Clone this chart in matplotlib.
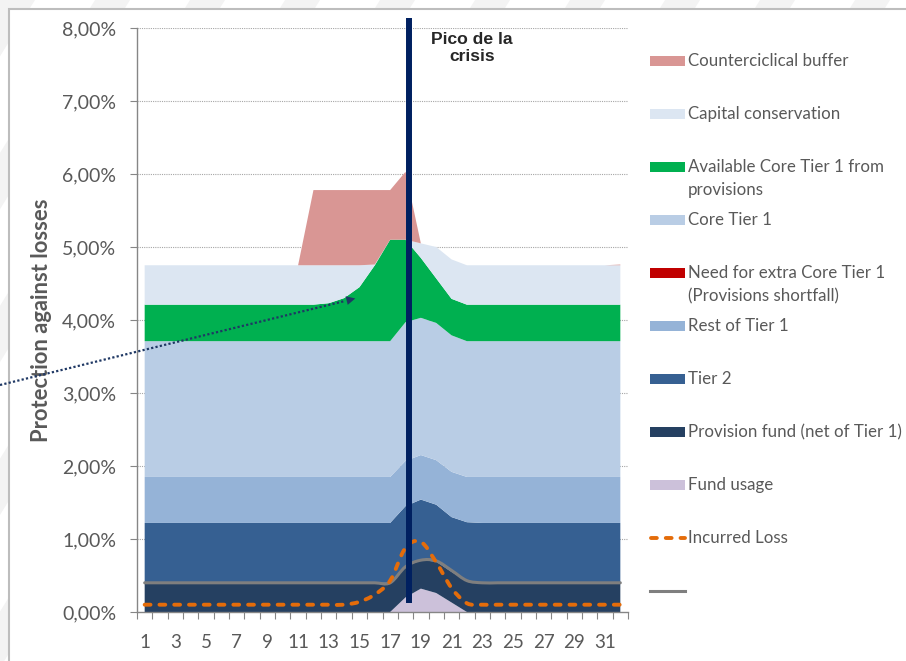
import numpy as np
import matplotlib.pyplot as plt
from matplotlib.patches import Rectangle, PathPatch, Polygon, FancyArrowPatch
from matplotlib.path import Path
from matplotlib.lines import Line2D

plt.rcParams['font.family'] = ['Lato', 'DejaVu Sans']

W, H = 906, 661

periods = np.arange(1, 33)

# layer thicknesses (% of assets), bottom layer first
fund_usage = [0] * 17 + [0.20, 0.32, 0.26, 0.13] + [0] * 11
provision_fund = [0.40] * 17 + [0.42, 0.39, 0.43, 0.42, 0.42] + [0.40] * 10
tier2 = [0.82] * 17 + [0.83, 0.83, 0.78, 0.75, 0.81] + [0.82] * 10
rest_tier1 = [0.63] * 17 + [0.62, 0.61, 0.61, 0.62, 0.62] + [0.63] * 10
extra_core_tier1 = [0] * 32
core_tier1 = [1.86] * 17 + [1.90, 1.88, 1.88, 1.87, 1.86] + [1.86] * 10
available_ct1 = [0.50] * 12 + [0.52, 0.59, 0.74, 1.04, 1.39, 1.13, 0.82, 0.61, 0.50, 0.50] + [0.50] * 10
capital_conservation = [0.54] * 12 + [0.52, 0.45, 0.30, 0.01, 0, 0, 0.20, 0.43, 0.54, 0.54] + [0.54] * 10
countercyclical = [0] * 11 + [1.03] * 4 + [1.02, 0.68, 0.93] + [0] * 13 + [0.01]

incurred_loss = [0.10] * 14 + [0.14, 0.24, 0.43, 0.88, 0.96, 0.68, 0.33, 0.12] + [0.10] * 10
provision_line = [0.40] * 17 + [0.62, 0.71, 0.70, 0.57, 0.43] + [0.40] * 10

peak_x = 18.2

layers = [fund_usage, provision_fund, tier2, rest_tier1, extra_core_tier1,
          core_tier1, available_ct1, capital_conservation, countercyclical]
layer_colors = ['#CCC1DA', '#254061', '#366092', '#95B3D7', '#C00000',
                '#B9CDE5', '#00B050', '#DCE6F2', '#D99694']

legend_labels = ['Counterciclical buffer', 'Capital conservation',
                 'Available Core Tier 1 from\nprovisions', 'Core Tier 1',
                 'Need for extra Core Tier 1\n(Provisions shortfall)', 'Rest of Tier 1',
                 'Tier 2', 'Provision fund (net of Tier 1)', 'Fund usage',
                 'Incurred Loss', '']

yticks = np.arange(0, 9)
ytick_labels = ['%d,00%%' % v for v in yticks]


def fx(x):
    return x / W


def fy(y):
    return 1 - y / H


def smooth_path(x, y):
    # cubic bezier through every point, like a spreadsheet "smoothed line"
    pts = np.column_stack([x, y]).astype(float)
    ext = np.vstack([pts[0], pts, pts[-1]])
    verts = [pts[0]]
    codes = [Path.MOVETO]
    for i in range(len(pts) - 1):
        p0, p1, p2, p3 = ext[i], ext[i + 1], ext[i + 2], ext[i + 3]
        verts += [p1 + (p2 - p0) / 6, p2 - (p3 - p1) / 6, p2]
        codes += [Path.CURVE4] * 3
    return Path(verts, codes)


fig = plt.figure(figsize=(W / 100, H / 100), dpi=100)

# faint striped backdrop and the chart frame
for k in range(-6, 14):
    x0 = k * 95
    fig.patches.append(Polygon([(fx(x0), fy(0)), (fx(x0 + 35), fy(0)),
                                (fx(x0 - 400), fy(700)), (fx(x0 - 435), fy(700))],
                               closed=True, transform=fig.transFigure,
                               facecolor='#F3F3F3', edgecolor='none', zorder=0))
fig.patches.append(Rectangle((fx(9), fy(670)), 1, fy(9) - fy(670),
                             transform=fig.transFigure, facecolor='white',
                             edgecolor='#BDBDBD', lw=1.5, zorder=1))

ax = fig.add_axes([fx(137), fy(612), fx(628) - fx(137), fy(28) - fy(612)])
ax.set_facecolor('none')
ax.set_zorder(2)

ax.stackplot(periods, *layers, colors=layer_colors, linewidth=0)

ax.add_patch(PathPatch(smooth_path(periods, provision_line), fill=False,
                       edgecolor='#7F7F7F', lw=2.2, capstyle='round', zorder=3))
ax.add_patch(PathPatch(smooth_path(periods, incurred_loss), fill=False,
                       edgecolor='#E46C0A', lw=2.8, linestyle=(0, (1.5, 2.3)),
                       capstyle='round', zorder=4))

ax.plot([peak_x, peak_x], [0.12, 8.14], color='#002060', lw=4.3,
        solid_capstyle='butt', clip_on=False, zorder=5)

ax.set_xlim(0.5, 32.5)
ax.set_ylim(0, 8)
ax.set_yticks(yticks)
ax.set_yticklabels(ytick_labels)
ax.set_xticks(np.arange(0.5, 33, 1))
ax.set_xticklabels([])
ax.set_xticks(periods[::2], minor=True)
ax.set_xticklabels([str(p) for p in periods[::2]], minor=True)
ax.tick_params(axis='x', which='major', length=5, color='#868686', direction='out')
ax.tick_params(axis='x', which='minor', length=0, pad=16, labelsize=13.5,
               labelcolor='#595959')
ax.tick_params(axis='y', length=5, color='#868686', pad=10, labelsize=14,
               labelcolor='#595959')
for v in yticks[1:]:
    ax.axhline(v, color='#A6A6A6', lw=0.8, linestyle=(0, (1, 1)), zorder=0.5)
for side in ['top', 'right']:
    ax.spines[side].set_visible(False)
for side in ['left', 'bottom']:
    ax.spines[side].set_color('#868686')
    ax.spines[side].set_linewidth(1.0)

fig.text(fx(42), fy(320), 'Protection against losses', rotation=90, ha='center',
         va='center', fontsize=15.8, fontweight='bold', color='#595959')

fig.text(fx(472), fy(48), 'Pico de la\ncrisis', ha='center', va='center',
         fontsize=12.6, fontweight='bold', color='#262626',
         family=['Liberation Sans', 'DejaVu Sans'], linespacing=1.2)

# dotted pointer towards the provisions build-up
fig.add_artist(Line2D([fx(0), fx(345)], [fy(385), fy(301)], color='#1F3864',
                      lw=1.6, linestyle=(0, (1, 1)), transform=fig.transFigure,
                      zorder=10))
fig.add_artist(FancyArrowPatch((fx(342), fy(301.7)), (fx(358), fy(297.8)),
                               transform=fig.transFigure, arrowstyle='-|>',
                               mutation_scale=16, color='#1F3864', lw=0,
                               zorder=10))

# legend, drawn entry by entry
handle_colors = layer_colors[::-1]
for i, label in enumerate(legend_labels):
    yc = 61 + 53 * i
    if i < 9:
        fig.patches.append(Rectangle((fx(650), fy(yc + 5)), fx(685) - fx(650),
                                     fy(yc - 5) - fy(yc + 5),
                                     transform=fig.transFigure,
                                     facecolor=handle_colors[i], edgecolor='none',
                                     zorder=3))
    elif i == 9:
        fig.add_artist(Line2D([fx(651), fx(685)], [fy(yc), fy(yc)], color='#E46C0A',
                              lw=2.8, linestyle=(0, (1.5, 2.3)), dash_capstyle='round',
                              transform=fig.transFigure))
    else:
        fig.add_artist(Line2D([fx(650), fx(685)], [fy(yc), fy(yc)], color='#7F7F7F',
                              lw=2.2, transform=fig.transFigure))
    for j, line in enumerate(label.split('\n')):
        fig.text(fx(688), fy(yc + 23 * j), line, ha='left', va='center',
                 fontsize=12.2, color='#595959')

fig.savefig('out.png', dpi=100)
